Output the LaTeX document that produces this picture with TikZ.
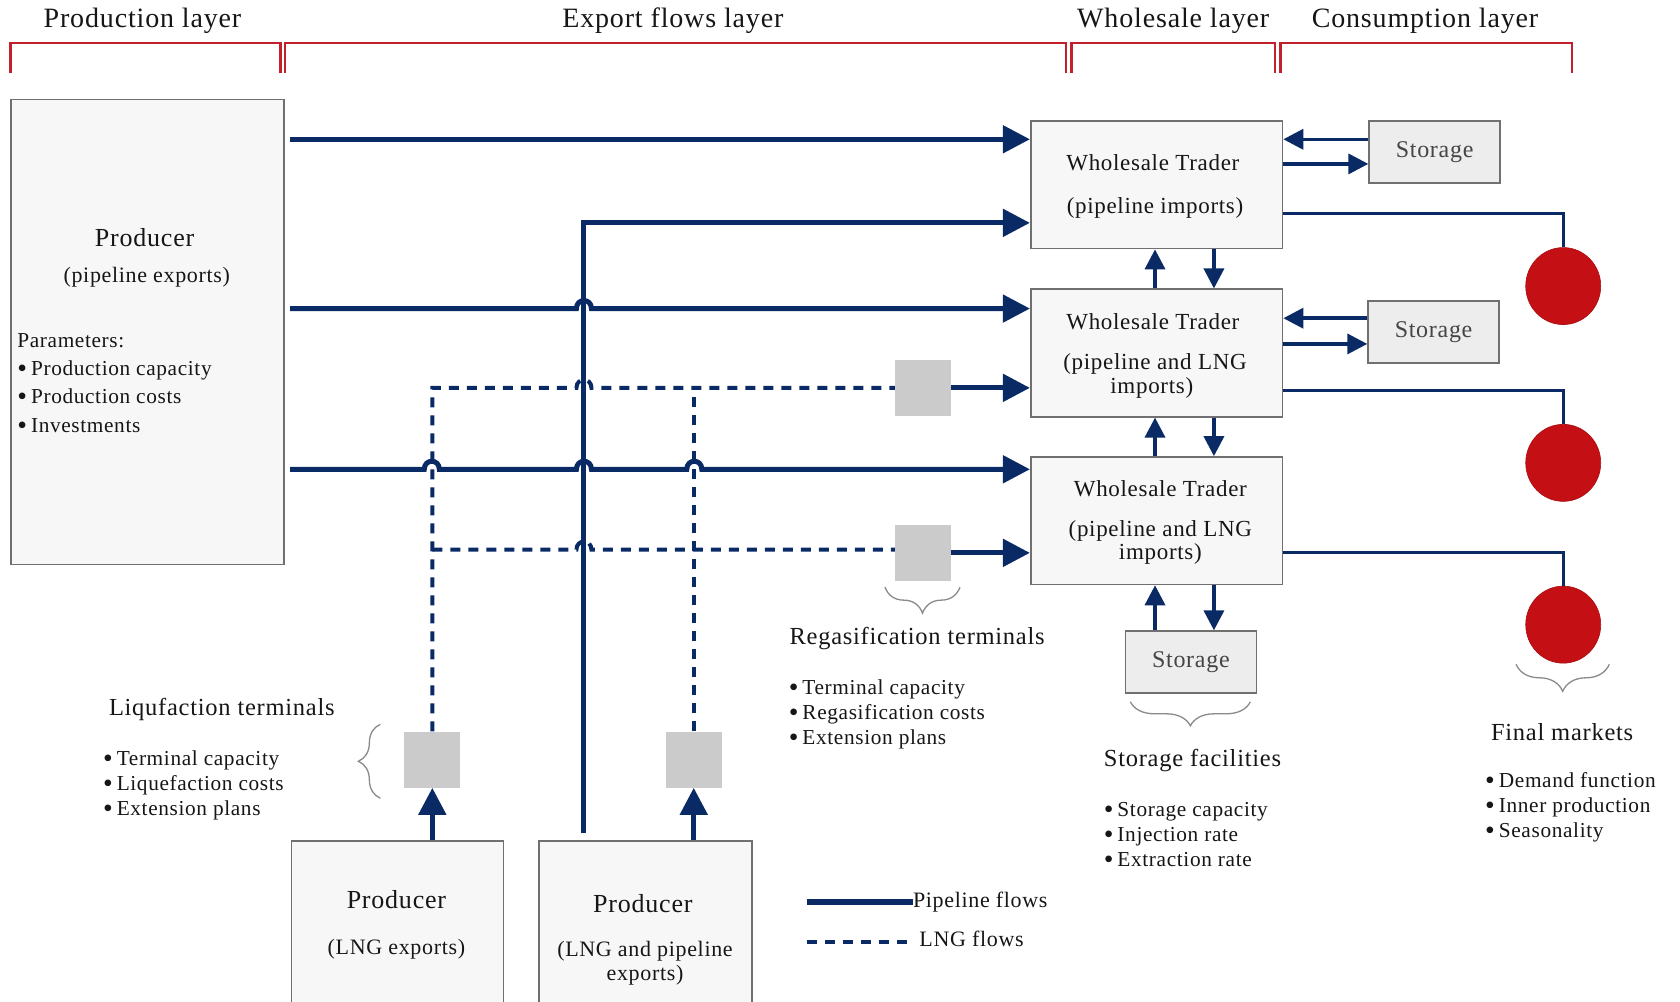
\documentclass[tikz,border=0pt]{standalone}
\usepackage{fontspec}
\setmainfont{Liberation Serif}[LetterSpace=3]
\usetikzlibrary{arrows.meta,calc,decorations.pathreplacing,shapes.geometric}
\definecolor{navy}{HTML}{0A2A66}
\definecolor{brkred}{HTML}{C4202B}
\definecolor{mktred}{HTML}{C40F14}
\definecolor{boxline}{HTML}{707070}
\definecolor{boxfill}{HTML}{F7F7F7}
\definecolor{stofill}{HTML}{EDEDED}
\definecolor{termgray}{HTML}{CBCBCB}
\definecolor{txtc}{HTML}{161616}
\definecolor{bracec}{HTML}{8A8A8A}
\newcommand\bul{\raisebox{-2pt}[0pt][0pt]{\scalebox{1.3}{\textbullet}}\hspace{4pt}}
\begin{document}
\begin{tikzpicture}[x=1.0714pt,y=-1.0714pt,
  hdr/.style={font=\fontsize{28}{32}\selectfont, text=txtc, inner sep=0},
  lbl/.style={font=\fontsize{24.5}{28}\selectfont, text=txtc, inner sep=0},
  ptitle/.style={font=\fontsize{26}{30}\selectfont, text=txtc, inner sep=0},
  wtt/.style={font=\fontsize{23}{26}\selectfont, text=txtc, inner sep=0},
  body/.style={font=\fontsize{22}{26}\selectfont, text=txtc, inner sep=0, text height=14pt, text depth=4pt},
  item/.style={font=\fontsize{21.3}{24}\selectfont, text=txtc, inner sep=0, text height=13pt, text depth=3.5pt, anchor=west},
  box/.style={draw=boxline, fill=boxfill, line width=1.6pt, inner sep=0, rectangle},
  sbox/.style={draw=boxline, fill=stofill, line width=1.6pt, inner sep=0, rectangle,
     minimum width=131pt, minimum height=62pt, font=\fontsize{24}{28}\selectfont, text=txtc!80},
  term/.style={fill=termgray, inner sep=0, rectangle, minimum width=56pt, minimum height=56pt},
  mkt/.style={ellipse, fill=mktred, draw=mktred!85!black, line width=0.6pt, minimum width=75pt, minimum height=77pt, inner sep=0},
  pipe/.style={draw=navy, line width=5pt},
  lng/.style={draw=navy, line width=4pt, dash pattern=on 10pt off 8pt},
  big/.style={-{Triangle[length=27pt,width=27pt]}},
  small/.style={draw=navy, line width=3.5pt, -{Triangle[length=20pt,width=20pt]}},
  mline/.style={draw=navy, line width=3pt},
  brk/.style={draw=brkred, line width=2.5pt},
  brc/.style={draw=bracec, line width=1.3pt, decorate, decoration={brace, amplitude=#1}}
]
\fill[white] (0,0) rectangle (1568,935);
\clip (0,0) rectangle (1568,935);

% headers
\node[hdr] (h1) at (133,19) {Production layer};
\node[hdr] (h2) at (628,19) {Export flows layer};
\node[hdr] (h3) at (1095,19) {Wholesale layer};
\node[hdr] (h4) at (1330,19) {Consumption layer};
\draw[brk] (10,68) -- (10,40) -- (262,40) -- (262,68);
\draw[brk] (266,68) -- (266,40) -- (995,40) -- (995,68);
\draw[brk] (1000,68) -- (1000,40) -- (1190,40) -- (1190,68);
\draw[brk] (1195,68) -- (1195,40) -- (1467,40) -- (1467,68);

% producer pipeline
\node[box, minimum width=273.2pt, minimum height=465pt] (P1) at (137.5,310) {};
\node[ptitle] (P1t) at (135,222) {Producer};
\node[body] (P1s) at (137,259) {(pipeline exports)};
\node[item] (P1a) at (16,320) {Parameters:};
\node[item] (P1b) at (16,346) {\bul Production capacity};
\node[item] (P1c) at (16,372) {\bul Production costs};
\node[item] (P1d) at (16,399) {\bul Investments};

% bottom producers
\node[box, minimum width=212pt, minimum height=182pt] (P2) at (371,870) {};
\node[ptitle] (P2t) at (370,840) {Producer};
\node[body] (P2s) at (370,886) {(LNG exports)};
\node[box, minimum width=213pt, minimum height=182pt] (P3) at (602.5,870) {};
\node[ptitle] (P3t) at (600,843) {Producer};
\node[body] (P3s) at (602,888) {(LNG and pipeline};
\node[body] (P3u) at (602,910) {exports)};

% wholesale traders
\node[box, minimum width=251.8pt, minimum height=127.5pt] (W1) at (1079.5,172.5) {};
\node[wtt] (W1t) at (1076,152) {Wholesale Trader};
\node[wtt] (W1s) at (1078,194) {(pipeline imports)};
\node[box, minimum width=251.8pt, minimum height=127.5pt] (W2) at (1079.5,329.5) {};
\node[wtt] (W2t) at (1076,300) {Wholesale Trader};
\node[wtt] (W2s) at (1078,340) {(pipeline and LNG};
\node[wtt] (W2u) at (1075,362) {imports)};
\node[box, minimum width=251.8pt, minimum height=127.5pt] (W3) at (1079.5,486) {};
\node[wtt] (W3t) at (1083,456) {Wholesale Trader};
\node[wtt] (W3s) at (1083,496) {(pipeline and LNG};
\node[wtt] (W3u) at (1083,517) {imports)};

% storages
\node[sbox] (S1) at (1339,142) {Storage};
\node[sbox] (S2) at (1338,310) {Storage};
\node[sbox] (S3) at (1111.5,618) {Storage};

% terminals
\node[term] (R1) at (861.5,362) {};
\node[term] (R2) at (861.5,516) {};
\node[term] (L1) at (403.5,709) {};
\node[term] (L2) at (647.5,709) {};

% markets
\node[mkt] (M1) at (1459,267) {};
\node[mkt] (M2) at (1459,432) {};
\node[mkt] (M3) at (1459,583) {};

% pipeline flows
\draw[pipe,big] ($(P1.east|-0,130)+(5,0)$) -- (W1.west|-0,130);
\draw[pipe,big] ($(P1.east|-0,288)+(5,0)$) -- (538,288) .. controls (538,278) and (552,278) .. (552,288) -- (W2.west|-0,288);
\draw[pipe,big] ($(P1.east|-0,438)+(5,0)$) -- (396,438) .. controls (396,428) and (410,428) .. (410,438)
   -- (538,438) .. controls (538,428) and (552,428) .. (552,438)
   -- (641,438) .. controls (641,428) and (655,428) .. (655,438) -- (W3.west|-0,438);
\draw[pipe,big] ($(P3.north -| 545,0)+(0,-7)$) -- (545,208) -- (W1.west|-0,208);

% LNG flows
\draw[lng] (L1.north) -- (L1.north|-0,362) -- (538,362) .. controls (538,352) and (552,352) .. (552,362) -- (R1.west|-0,362);
\draw[lng] (L2.north) -- (L2.north|-0,362);
\draw[lng] (L1.north|-0,513) -- (538,513) .. controls (538,503) and (552,503) .. (552,513) -- (R2.west|-0,513);
\draw[pipe,big] (R1.east) -- (W2.west|-R1.east);
\draw[pipe,big] (R2.east) -- (W3.west|-R2.east);
\draw[pipe,big] (P2.north-|L1.south) -- (L1.south);
\draw[pipe,big] (P3.north-|L2.south) -- (L2.south);

% trader exchanges
\draw[small] ($(W2.north)+(-1.5,0)$) -- ($(W1.south)+(-1.5,0)$);
\draw[small] ($(W1.south)+(53.5,0)$) -- ($(W2.north)+(53.5,0)$);
\draw[small] ($(W3.north)+(-1.5,0)$) -- ($(W2.south)+(-1.5,0)$);
\draw[small] ($(W2.south)+(53.5,0)$) -- ($(W3.north)+(53.5,0)$);
\draw[small] (S3.north-|1078,0) -- (W3.south-|1078,0);
\draw[small] (W3.south-|1133,0) -- (S3.north-|1133,0);
\draw[small] (S1.west|-0,130) -- (W1.east|-0,130);
\draw[small] (W1.east|-0,153) -- (S1.west|-0,153);
\draw[small] (S2.west|-0,297) -- (W2.east|-0,297);
\draw[small] (W2.east|-0,321) -- (S2.west|-0,321);

% to markets
\draw[mline] (W1.east|-0,199) -| (M1.north);
\draw[mline] (W2.east|-0,364) -| (M2.north);
\draw[mline] (W3.east|-0,516) -| (M3.north);

% braces
\draw[brc=26pt] (896,548) -- (826,548);
\draw[brc=24pt] (1167,655) -- (1055,655);
\draw[brc=27pt] (1502,620) -- (1415,620);
\draw[brc=22pt] (355,745) -- (355,676);

% labels
\node[lbl] (RegT) at (856,596) {Regasification terminals};
\node[item] (Reg1) at (736,644) {\bul Terminal capacity};
\node[item] (Reg2) at (736,667) {\bul Regasification costs};
\node[item] (Reg3) at (736,690) {\bul Extension plans};

\node[lbl] (LiqT) at (207,662) {Liqufaction terminals};
\node[item] (Liq1) at (96,710) {\bul Terminal capacity};
\node[item] (Liq2) at (96,733) {\bul Liquefaction costs};
\node[item] (Liq3) at (96,757) {\bul Extension plans};

\node[lbl] (StoT) at (1113,710) {Storage facilities};
\node[item] (Sto1) at (1030,758) {\bul Storage capacity};
\node[item] (Sto2) at (1030,781) {\bul Injection rate};
\node[item] (Sto3) at (1030,804) {\bul Extraction rate};

\node[lbl] (MktT) at (1458,683) {Final markets};
\node[item] (Mkt1) at (1386,731) {\bul Demand function};
\node[item] (Mkt2) at (1386,754) {\bul Inner production};
\node[item] (Mkt3) at (1386,777) {\bul Seasonality};

% legend
\coordinate (Lg1a) at (753,842);
\coordinate (Lg2a) at (753,879);
\node[body, anchor=west] (Lg1) at (852,842) {Pipeline flows};
\node[body, anchor=west] (Lg2) at (858,879) {LNG flows};
\draw[pipe, line width=5.5pt] (Lg1a) -- (Lg1.west);
\draw[lng] (Lg2a) -- ($(Lg2.west)+(-5,0)$);
\end{tikzpicture}
\end{document}
